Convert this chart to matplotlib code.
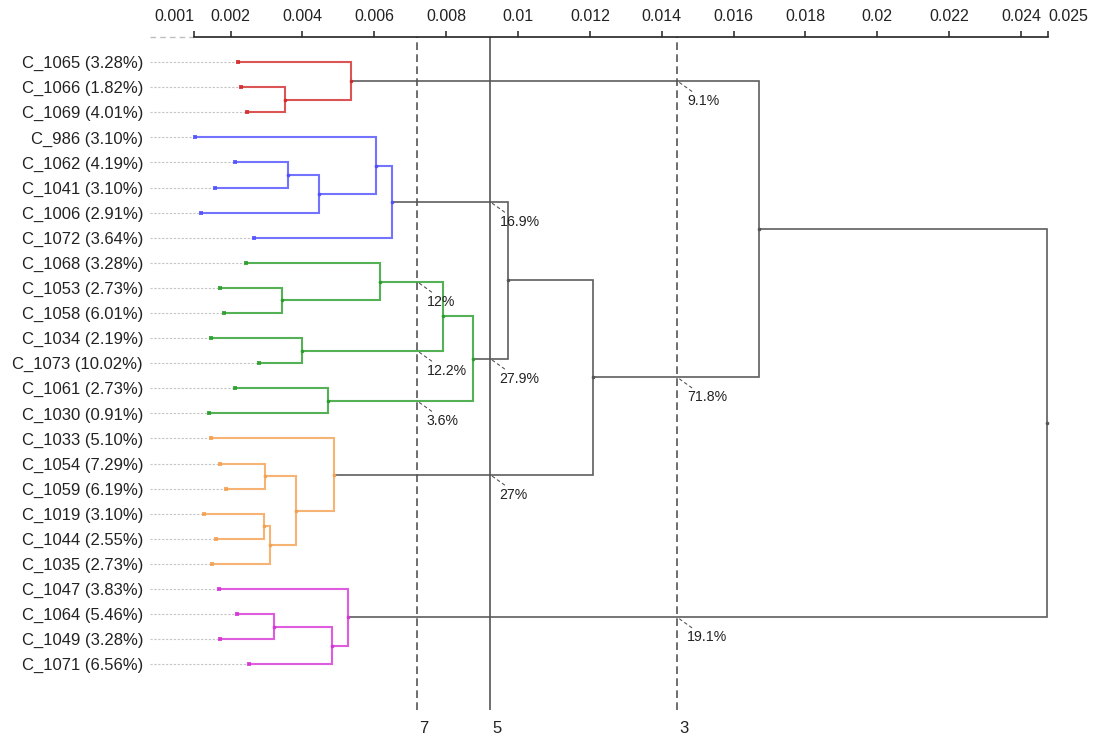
import numpy as np
import matplotlib
matplotlib.use('Agg')
import matplotlib.pyplot as plt

plt.rcParams['font.family'] = ['Liberation Sans', 'DejaVu Sans']

# leaves, top to bottom
leaf_names = ['C_1065', 'C_1066', 'C_1069', 'C_986', 'C_1062', 'C_1041', 'C_1006', 'C_1072',
              'C_1068', 'C_1053', 'C_1058', 'C_1034', 'C_1073', 'C_1061', 'C_1030',
              'C_1033', 'C_1054', 'C_1059', 'C_1019', 'C_1044', 'C_1035',
              'C_1047', 'C_1064', 'C_1049', 'C_1071']
leaf_pct = ['3.28%', '1.82%', '4.01%', '3.10%', '4.19%', '3.10%', '2.91%', '3.64%',
            '3.28%', '2.73%', '6.01%', '2.19%', '10.02%', '2.73%', '0.91%',
            '5.10%', '7.29%', '6.19%', '3.10%', '2.55%', '2.73%',
            '3.83%', '5.46%', '3.28%', '6.56%']
leaf_height = [0.00221, 0.00229, 0.00246, 0.00101, 0.00212, 0.00157, 0.00118, 0.00265,
               0.00243, 0.00172, 0.00181, 0.00146, 0.00279, 0.00212, 0.00141,
               0.00146, 0.00172, 0.00186, 0.00126, 0.00160, 0.00149,
               0.00168, 0.00218, 0.00171, 0.00251]
leaf_group = [0]*3 + [1]*5 + [2]*7 + [3]*6 + [4]*4

# merges (linkage style: leaves are 0..24, merged nodes 25..)
merge_left = [1, 0, 4, 27, 3, 29, 9, 8, 11, 13, 32, 35, 30, 16, 18, 39, 38, 15, 37, 26, 22, 45, 21, 44]
merge_right = [2, 25, 5, 6, 28, 7, 10, 31, 12, 14, 33, 34, 36, 17, 19, 20, 40, 41, 42, 43, 23, 24, 46, 47]
merge_height = [0.00352, 0.00535, 0.00360, 0.00446, 0.00605, 0.00649, 0.00343, 0.00616,
                0.00399, 0.00471, 0.00791, 0.00875, 0.00972, 0.00296, 0.00294, 0.00310,
                0.00382, 0.00488, 0.01209, 0.01671, 0.00321, 0.00482, 0.00527, 0.02472]

# cut lines
cut_height = [0.00719, 0.00922, 0.01443]
cut_label = ['7', '5', '3']
cut_style = ['dashed', 'solid', 'dashed']

# cluster share labels
ann_node = [26, 43, 47, 30, 36, 42, 32, 33, 34]
ann_cut = [2, 2, 2, 1, 1, 1, 0, 0, 0]
ann_text = ['9.1%', '71.8%', '19.1%', '16.9%', '27.9%', '27%', '12%', '12.2%', '3.6%']

group_colors = ['#d42a2a', '#5050ff', '#2a9e2a', '#f4a050', '#d633d6']
grey = '#555555'

x_dom = (0.000983, 0.02475)
x_left = -0.000242

W, H = 1097, 737
fig = plt.figure(figsize=(W/100, H/100), dpi=100)
ax = fig.add_axes([150/W, 1-710/H, (1048-150)/W, (710-37)/H])
ax.set_xlim(x_left, x_dom[1])
ax.set_ylim(25.82, -1.0)

n = len(leaf_names)
# leader lines and leaf dots
for i in range(n):
    ax.plot([x_left, leaf_height[i]], [i, i], color='#c4c4c4', lw=0.8,
            dashes=(2, 1.5), zorder=1)
    ax.plot(leaf_height[i], i, 's', ms=2.3, mew=0, color=group_colors[leaf_group[i]],
            alpha=0.85, zorder=3)

pos_y = list(range(n))
heights = list(leaf_height)
groups = list(leaf_group)
for a, b, h in zip(merge_left, merge_right, merge_height):
    ya, yb = pos_y[a], pos_y[b]
    same = groups[a] == groups[b] and groups[a] >= 0
    col = group_colors[groups[a]] if same else grey
    lw = 1.5 if same else 1.2
    al = 0.8 if same else 0.95
    ax.plot([heights[a], h, h, heights[b]], [ya, ya, yb, yb], color=col, lw=lw,
            alpha=al, solid_joinstyle='miter', zorder=2)
    ym = (ya + yb) / 2
    ax.plot(h, ym, 'o', ms=2.6, mew=0, color=col, zorder=3, clip_on=False)
    pos_y.append(ym)
    heights.append(h)
    groups.append(groups[a] if same else -1)

# cut lines
for xc, lbl, st in zip(cut_height, cut_label, cut_style):
    if st == 'dashed':
        ax.axvline(xc, color=grey, lw=1.2, dashes=(4.6, 2.6), zorder=1)
    else:
        ax.axvline(xc, color=grey, lw=1.2, zorder=1)
    ax.annotate(lbl, xy=(xc, 0), xycoords=('data', 'axes fraction'),
                xytext=(1.5, -13), textcoords='offset points',
                ha='left', va='center', fontsize=12, color='#222222')

for nd, ci, txt in zip(ann_node, ann_cut, ann_text):
    xc = cut_height[ci]
    yn = pos_y[nd]
    ax.annotate('', xy=(xc, yn), xytext=(10.5, -7.5), textcoords='offset points',
                arrowprops=dict(arrowstyle='-', color=grey, lw=0.8,
                                linestyle=(0, (2.5, 3)), shrinkA=0, shrinkB=0))
    ax.annotate(txt, xy=(xc, yn), xytext=(7, -14.5), textcoords='offset points',
                ha='left', va='center', fontsize=10.2, color='#222222')

# top axis
for s in ['left', 'right', 'bottom']:
    ax.spines[s].set_visible(False)
ax.spines['top'].set_bounds(x_dom[0], x_dom[1])
ax.spines['top'].set_linewidth(1.2)
ax.spines['top'].set_color('#222222')
ax.xaxis.tick_top()
ticks = [x_dom[0]] + [0.002*k for k in range(1, 13)] + [x_dom[1]]
tick_labels = ['0.001'] + ['%g' % round(0.002*k, 3) for k in range(1, 13)] + ['0.025']
ax.set_xticks(ticks)
ax.set_xticklabels(tick_labels)
ax.tick_params(axis='x', direction='out', length=4.5, width=1.1, pad=5,
               labelsize=11.5, color='#222222', labelcolor='#222222')
tls = ax.get_xticklabels()
tls[0].set_ha('right')
tls[-1].set_ha('left')
ax.plot([x_left, x_dom[0]], [-1.0, -1.0], color='#bdbdbd', lw=1.0, dashes=(4, 3),
        clip_on=False)

ax.set_yticks(range(n))
ax.set_yticklabels(['%s (%s)' % (nm, p) for nm, p in zip(leaf_names, leaf_pct)])
ax.tick_params(axis='y', length=0, pad=5, labelsize=12, labelcolor='#222222')

fig.savefig('out.png', dpi=100)
